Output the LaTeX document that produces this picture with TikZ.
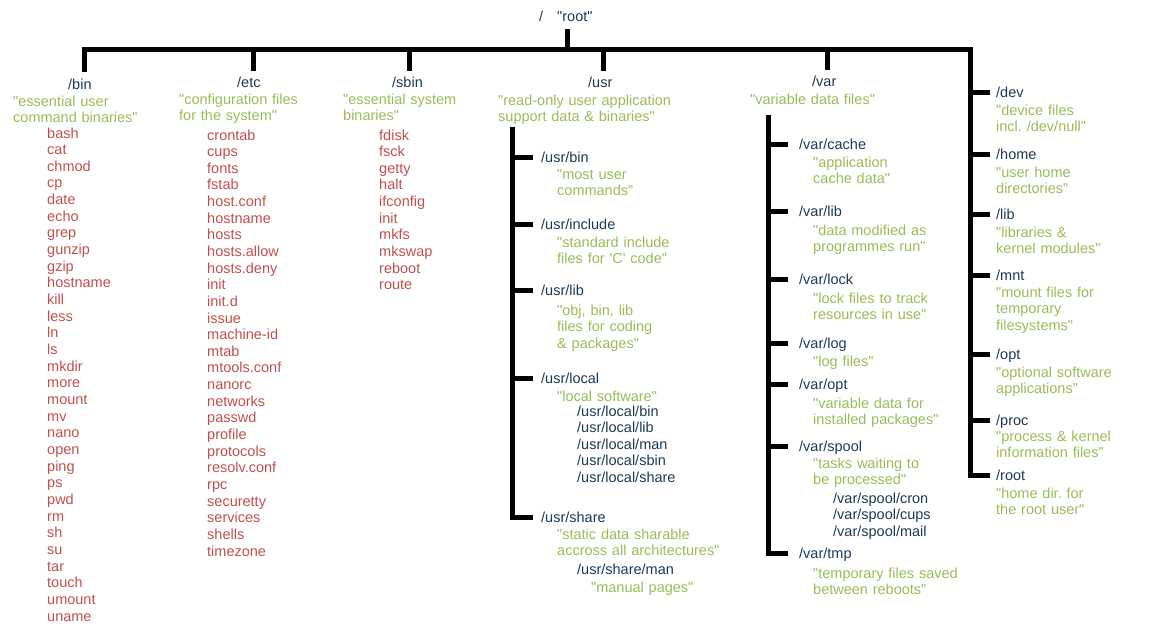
\documentclass[tikz,border=0pt]{standalone}
\usepackage{fontspec}
\setmainfont{Liberation Sans}[Ligatures=TeXOff]
\usepackage{xcolor}
\usepackage{tikz}
\usetikzlibrary{calc}
\definecolor{dirblue}{RGB}{27,58,87}
\definecolor{descgreen}{RGB}{155,187,89}
\definecolor{filered}{RGB}{192,80,77}
\newcommand\treefont{\fontsize{14.5}{16.66}\selectfont\frenchspacing}

\tikzset{
  spine/.style={line width=5pt,black},
  dirname/.style={anchor=base west,inner sep=0pt,text height=10pt,text depth=0pt,font=\treefont,text=dirblue},
  descr/.style={anchor=base west,inner sep=0pt,text width=240pt,align=left,font=\treefont,text=descgreen},
  fileitem/.style={anchor=base west,inner sep=0pt,font=\treefont,text=filered},
}

\begin{document}
\begin{tikzpicture}[x=1pt,y=-1pt]
  \useasboundingbox (0,0) rectangle (1163,643);
  % root
  \node[dirname] (slash) at (539,21) {/\hspace{14pt}"root"};
  \coordinate (stemtop) at (567,29);
  \coordinate (barL) at (84,49);
  \coordinate (barR) at (970,49);

  % first level, across the top
  \node[dirname] (dbin) at (68,89) {/bin};
  \node[descr] (bindesc) at (13,106) {"essential user\\command binaries"};
  \node[dirname] (detc) at (237,87) {/etc};
  \node[descr] (etcdesc) at (179,104) {"configuration files\\for the system"};
  \node[dirname] (dsbin) at (392,87) {/sbin};
  \node[descr] (sbindesc) at (343,104) {"essential system\\binaries"};
  \node[dirname] (dusr) at (588,87) {/usr};
  \node[descr] (usrdesc) at (498,105) {"read-only user application\\support data \& binaries"};
  \node[dirname] (dvar) at (812,86) {/var};
  \node[descr] (vardesc) at (750,104) {"variable data files"};

  % file lists
  \foreach \f [count=\i from 0] in {bash,cat,chmod,cp,date,echo,grep,gunzip,gzip,hostname,
      kill,less,ln,ls,mkdir,more,mount,mv,nano,open,ping,ps,pwd,rm,sh,su,tar,touch,umount,uname}
    \node[fileitem] (bin\i) at (47,{138+16.66*\i}) {\f};
  \foreach \f [count=\i from 0] in {crontab,cups,fonts,fstab,host.conf,hostname,hosts,hosts.allow,
      hosts.deny,init,init.d,issue,machine-id,mtab,mtools.conf,nanorc,networks,passwd,profile,
      protocols,resolv.conf,rpc,securetty,services,shells,timezone}
    \node[fileitem] (etc\i) at (207,{140+16.64*\i}) {\f};
  \foreach \f [count=\i from 0] in {fdisk,fsck,getty,halt,ifconfig,init,mkfs,mkswap,reboot,route}
    \node[fileitem] (sbin\i) at (379,{140+16.66*\i}) {\f};

  % /usr subtree
  \coordinate (usrtop) at (512,127);
  \node[dirname] (ubin) at (541,162) {/usr/bin};
  \node[descr] at (557,179) {"most user\\commands"};
  \node[dirname] (uinclude) at (541,229) {/usr/include};
  \node[descr] at (557,247) {"standard include\\files for 'C' code"};
  \node[dirname] (ulib) at (541,295) {/usr/lib};
  \node[descr] at (557,315) {"obj, bin, lib\\files for coding\\\& packages"};
  \node[dirname] (ulocal) at (541,383) {/usr/local};
  \node[descr] at (557,401) {"local software"};
  \foreach \f [count=\i from 0] in {/usr/local/bin,/usr/local/lib,/usr/local/man,/usr/local/sbin,/usr/local/share}
    \node[dirname] (ulocal\i) at (577,{416+16.66*\i}) {\f};
  \node[dirname] (ushare) at (541,522) {/usr/share};
  \node[descr] at (557,539) {"static data sharable\\accross all architectures"};
  \node[dirname] (usharedman) at (577,574) {/usr/share/man};
  \node[descr] at (591,592) {"manual pages"};

  % /var subtree
  \coordinate (vartop) at (768,115);
  \node[dirname] (vcache) at (799,149) {/var/cache};
  \node[descr] at (813,167) {"application\\cache data"};
  \node[dirname] (vlib) at (799,216) {/var/lib};
  \node[descr] at (813,235) {"data modified as\\programmes run"};
  \node[dirname] (vlock) at (799,284) {/var/lock};
  \node[descr] at (813,303) {"lock files to track\\resources in use"};
  \node[dirname] (vlog) at (799,348) {/var/log};
  \node[descr] at (813,366) {"log files"};
  \node[dirname] (vopt) at (799,389) {/var/opt};
  \node[descr] at (813,408) {"variable data for\\installed packages"};
  \node[dirname] (vspool) at (799,451) {/var/spool};
  \node[descr] at (813,468) {"tasks waiting to\\be processed"};
  \foreach \f [count=\i from 0] in {/var/spool/cron,/var/spool/cups,/var/spool/mail}
    \node[dirname] (vspool\i) at (833,{503+16.66*\i}) {\f};
  \node[dirname] (vtmp) at (799,558) {/var/tmp};
  \node[descr] at (813,578) {"temporary files saved\\between reboots"};

  % right hand column
  \node[dirname] (ddev) at (996,97) {/dev};
  \node[descr] at (996,115) {"device files\\incl. /dev/null"};
  \node[dirname] (dhome) at (996,159) {/home};
  \node[descr] at (996,177) {"user home\\directories"};
  \node[dirname] (dlib) at (996,219) {/lib};
  \node[descr] at (996,237) {"libraries \&\\kernel modules"};
  \node[dirname] (dmnt) at (996,280) {/mnt};
  \node[descr] at (996,297) {"mount files for\\temporary\\filesystems"};
  \node[dirname] (dopt) at (996,359) {/opt};
  \node[descr] at (996,377) {"optional software\\applications"};
  \node[dirname] (dproc) at (996,425) {/proc};
  \node[descr] at (996,441) {"process \& kernel\\information files"};
  \node[dirname] (droot) at (996,480) {/root};
  \node[descr] at (996,498) {"home dir. for\\the root user"};

  % the tree lines
  \draw[spine] (stemtop) -- (stemtop |- barL);
  \draw[spine,shorten <=7pt] (barL |- dbin.north) -- (barL) -- (barR) |- ([xshift=-6pt]droot.west);
  \foreach \x/\n in {253/detc,409/dsbin,603/dusr,827/dvar}
    \draw[spine,shorten >=6pt] (\x,49) -- (\x,0 |- \n.north);
  \draw[spine] (usrtop) |- ([xshift=-8pt]ushare.west);
  \foreach \n in {ubin,uinclude,ulib,ulocal}
    \draw[spine] (usrtop |- \n.west) -- ([xshift=-8pt]\n.west);
  \draw[spine] (vartop) |- ([xshift=-11pt]vtmp.west);
  \foreach \n in {vcache,vlib,vlock,vlog,vopt,vspool}
    \draw[spine] (vartop |- \n.west) -- ([xshift=-11pt]\n.west);
  \foreach \n in {ddev,dhome,dlib,dmnt,dopt,dproc}
    \draw[spine] (barR |- \n.west) -- ([xshift=-6pt]\n.west);
\end{tikzpicture}
\end{document}
